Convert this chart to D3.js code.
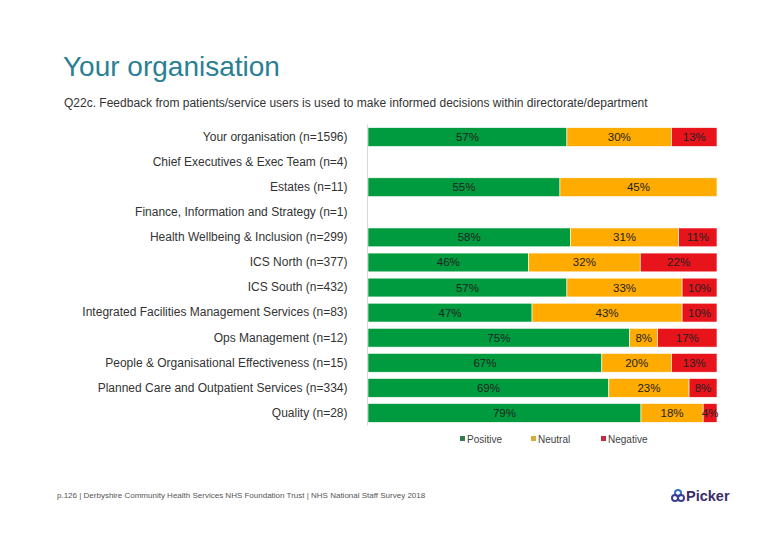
<!DOCTYPE html>
<html><head><meta charset="utf-8">
<script src="https://cdn.jsdelivr.net/npm/d3@7/dist/d3.min.js"></script>
<style>body{margin:0;background:#fff;}svg{display:block;font-family:"Liberation Sans",Arial,sans-serif;}</style>
</head><body>
<svg id="c" width="780" height="540"></svg>
<script>
const categories = ["Your organisation (n=1596)","Chief Executives & Exec Team (n=4)","Estates (n=11)","Finance, Information and Strategy (n=1)","Health Wellbeing & Inclusion (n=299)","ICS North (n=377)","ICS South (n=432)","Integrated Facilities Management Services (n=83)","Ops Management (n=12)","People & Organisational Effectiveness (n=15)","Planned Care and Outpatient Services (n=334)","Quality (n=28)"];
const positive = [57,null,55,null,58,46,57,47,75,67,69,79];
const neutral  = [30,null,45,null,31,32,33,43,8,20,23,18];
const negative = [13,null,0,null,11,22,10,10,17,13,8,4];
const seriesNames = ["Positive","Neutral","Negative"];
const seriesColors = ["#009B3E","#FFAB00","#E8141C"];
const legendColors = ["#2E7D50","#D9AE35","#C72A3C"];

const svg = d3.select("#c");
svg.append("text").attr("x",63).attr("y",76).attr("font-size",28).attr("fill","#2B7F95").text("Your organisation");
svg.append("text").attr("x",64).attr("y",107).attr("font-size",12).attr("fill","#333").text("Q22c. Feedback from patients/service users is used to make informed decisions within directorate/department");

const x0 = 368, x1 = 717;
const x = d3.scaleLinear().domain([0,100]).range([x0,x1]);
const y = d3.scaleBand().domain(categories).range([124.5,425.5]).paddingInner(0.25).paddingOuter(0.125);

const rows = categories.map((c,i)=>({cat:c, vals:[positive[i],neutral[i],negative[i]]}));
const g = svg.append("g");
rows.forEach(r=>{
  if (r.vals[0]==null) return;
  const tot = d3.sum(r.vals);
  let cum = 0;
  r.vals.forEach((v,k)=>{
    if (!v) return;
    const a = x(cum/tot*100), b = x((cum+v)/tot*100);
    g.append("rect").attr("x",a).attr("y",y(r.cat)).attr("width",b-a).attr("height",y.bandwidth())
      .attr("fill",seriesColors[k]).attr("stroke","#fff").attr("stroke-width",0.6);
    g.append("text").attr("x",(a+b)/2).attr("y",y(r.cat)+y.bandwidth()/2+4).attr("text-anchor","middle")
      .attr("font-size",11.5).attr("fill","#222").text(v+"%");
    cum += v;
  });
});
// axis
const yAxis = d3.axisLeft(y).tickSize(0).tickPadding(20);
const ax = svg.append("g").attr("transform",`translate(${x0-0.5},0)`).call(yAxis);
ax.select(".domain").attr("stroke","#d9d9d9").attr("d","M0,124.5V425.5");
ax.selectAll("text").attr("font-size",12).attr("fill","#333").attr("font-family","Liberation Sans, Arial, sans-serif");

// legend
const lx = [460,531,601];
seriesNames.forEach((n,i)=>{
  svg.append("rect").attr("x",lx[i]).attr("y",436).attr("width",5).attr("height",5).attr("fill",legendColors[i]);
  svg.append("text").attr("x",lx[i]+7).attr("y",443).attr("font-size",10).attr("fill","#444").text(n);
});

// footer
svg.append("text").attr("x",57).attr("y",498).attr("font-size",8).attr("fill","#555")
  .text("p.126 | Derbyshire Community Health Services NHS Foundation Trust | NHS National Staff Survey 2018");
// logo
const lg = svg.append("g").attr("transform","translate(671,489)");
lg.append("circle").attr("cx",7).attr("cy",4).attr("r",3).attr("fill","none").attr("stroke","#3A6FC4").attr("stroke-width",2);
lg.append("circle").attr("cx",4).attr("cy",9).attr("r",3).attr("fill","none").attr("stroke","#3B3F8F").attr("stroke-width",2);
lg.append("circle").attr("cx",10).attr("cy",9).attr("r",3).attr("fill","none").attr("stroke","#3B3F8F").attr("stroke-width",2);
svg.append("text").attr("x",686).attr("y",501).attr("font-size",14.5).attr("font-weight","bold").attr("fill","#3A2E6B").text("Picker");
</script>
</body></html>
